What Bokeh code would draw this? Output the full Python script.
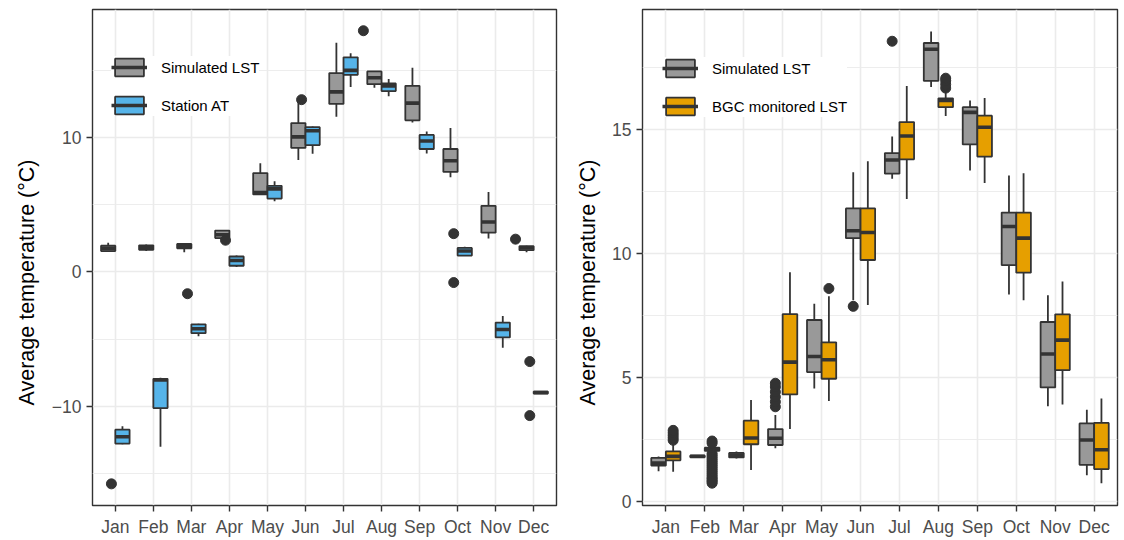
from bokeh.plotting import figure
from bokeh.layouts import row
from bokeh.models import Range1d, FixedTicker, Legend, LegendItem, ColumnDataSource, Title
from bokeh.embed import file_html
from bokeh.resources import INLINE

# ---------------- data ----------------
months = ["Jan", "Feb", "Mar", "Apr", "May", "Jun",
          "Jul", "Aug", "Sep", "Oct", "Nov", "Dec"]

# Left panel: Simulated LST (grey)
L_sim_lo  = [1.54, 1.55, 1.46, 2.50, 5.77, 8.33, 11.55, 13.70, 11.13, 7.05, 2.49, 1.46]
L_sim_q1  = [1.55, 1.65, 1.76, 2.52, 5.77, 9.23, 12.50, 13.97, 11.28, 7.44, 2.92, 1.62]
L_sim_med = [1.74, 1.82, 1.92, 2.77, 5.90, 10.05, 13.40, 14.45, 12.56, 8.28, 3.72, 1.80]
L_sim_q3  = [1.95, 1.98, 2.08, 3.08, 7.36, 11.08, 14.80, 14.92, 13.85, 9.15, 4.92, 1.92]
L_sim_hi  = [2.18, 2.05, 2.15, 3.13, 8.08, 12.60, 17.05, 14.95, 15.20, 10.72, 5.95, 1.95]
L_sim_out_month = [8, 12]
L_sim_out_value = [17.95, 2.44]

# Left panel: Station AT (blue)
L_at_lo  = [-12.82, -13.00, -4.79, 0.36, 5.26, 8.79, 13.77, 13.08, 8.82, 1.20, -5.64, -9.08]
L_at_q1  = [-12.77, -10.13, -4.56, 0.46, 5.46, 9.44, 14.67, 13.46, 9.15, 1.22, -4.87, -9.05]
L_at_med = [-12.26, -8.03, -4.23, 0.85, 6.18, 10.51, 15.00, 13.85, 9.74, 1.56, -4.28, -8.97]
L_at_q3  = [-11.74, -7.95, -3.90, 1.15, 6.41, 10.77, 15.97, 14.03, 10.20, 1.79, -3.77, -8.90]
L_at_hi  = [-11.49, -7.87, -3.85, 1.23, 6.74, 10.82, 16.28, 14.36, 10.46, 1.87, -3.28, -8.88]
L_at_out_month = [1, 3, 4, 6, 10, 10, 12, 12]
L_at_out_value = [-15.77, -1.62, 2.36, 12.82, 2.85, -0.79, -6.67, -10.69]

# Right panel: Simulated LST (grey)
R_sim_lo  = [1.20, 1.76, 1.72, 2.13, 4.54, 8.10, 13.00, 16.70, 13.33, 8.33, 3.82, 1.04]
R_sim_q1  = [1.43, 1.77, 1.76, 2.26, 5.20, 10.60, 13.20, 16.94, 14.38, 9.51, 4.58, 1.46]
R_sim_med = [1.53, 1.80, 1.85, 2.53, 5.83, 10.90, 13.75, 18.22, 15.67, 11.07, 5.93, 2.46]
R_sim_q3  = [1.74, 1.83, 1.94, 2.90, 7.30, 11.80, 14.03, 18.47, 15.88, 11.63, 7.22, 3.13]
R_sim_hi  = [1.80, 1.85, 2.00, 3.47, 7.96, 13.26, 14.70, 18.93, 16.15, 13.13, 8.30, 3.68]
R_sim_out_month = [4, 4, 4, 4, 4, 4, 6, 7]
R_sim_out_value = [3.80, 4.00, 4.20, 4.40, 4.60, 4.75, 7.85, 18.54]

# Right panel: BGC monitored LST (orange)
R_bgc_lo  = [1.18, 1.98, 1.25, 2.90, 4.03, 7.90, 12.18, 15.53, 12.82, 8.10, 3.89, 0.72]
R_bgc_q1  = [1.64, 2.02, 2.29, 4.30, 4.93, 9.72, 13.78, 15.88, 13.89, 9.21, 5.28, 1.29]
R_bgc_med = [1.80, 2.10, 2.54, 5.60, 5.70, 10.83, 14.72, 16.15, 15.07, 10.60, 6.49, 2.07]
R_bgc_q3  = [2.00, 2.15, 3.24, 7.54, 6.40, 11.80, 15.28, 16.24, 15.54, 11.63, 7.53, 3.15]
R_bgc_hi  = [2.30, 2.20, 4.07, 9.23, 8.26, 13.70, 16.74, 16.57, 16.25, 13.22, 8.85, 4.13]
R_bgc_out_month = [1, 1, 1, 1, 1,
                   2, 2, 2, 2, 2, 2, 2, 2, 2, 2, 2, 2, 2, 2, 2, 2, 2, 2, 2,
                   5, 8, 8, 8, 8]
R_bgc_out_value = [2.45, 2.55, 2.65, 2.75, 2.85,
                   2.42, 2.33, 1.92, 1.84, 1.76, 1.68, 1.60, 1.52, 1.44, 1.36, 1.28,
                   1.20, 1.12, 1.04, 0.96, 0.90, 0.84, 0.78, 0.72,
                   8.57, 16.65, 16.80, 16.95, 17.05]

# ---------------- style ----------------
FONT = "Liberation Sans"
DARK = "#333333"
GREY = "#999999"
BLUE = "#56B4E9"
ORANGE = "#E69F00"
GRID = "#EBEBEB"
DODGE = 0.1875
BOXW = 0.375


def add_series(p, offset, lo, q1, med, q3, hi, out_m, out_v, fill, out_shift):
    x = [i + 1 + offset for i in range(len(months))]
    src = ColumnDataSource(dict(
        x=x, lo=lo, q1=q1, med=med, q3=q3, hi=hi,
        xl=[v - BOXW / 2 for v in x], xr=[v + BOXW / 2 for v in x]))
    p.segment(x0="x", x1="x", y0="lo", y1="hi", source=src,
              line_color=DARK, line_width=1.8)
    box = p.vbar(x="x", width=BOXW, bottom="q1", top="q3", source=src,
                 fill_color=fill, line_color=DARK, line_width=1.8)
    medr = p.segment(x0="xl", x1="xr", y0="med", y1="med", source=src,
                     line_color=DARK, line_width=3.6)
    return box, medr, (out_m, out_v, offset + out_shift)


def make_panel(y_lo, y_hi, ticks, minor, labels, fw, bl, br, series, legend_loc):
    p = figure(frame_width=fw, frame_height=496,
               min_border_left=bl, min_border_right=br,
               min_border_top=9, min_border_bottom=35,
               x_range=Range1d(0.4, 12.6), y_range=Range1d(y_lo, y_hi),
               output_backend="svg", toolbar_location=None,
               background_fill_color="white", border_fill_color="white")
    p.outline_line_color = DARK
    p.outline_line_width = 1.4

    p.xaxis.ticker = FixedTicker(ticks=list(range(1, 13)))
    p.xaxis.major_label_overrides = {i + 1: m for i, m in enumerate(months)}
    p.yaxis.ticker = FixedTicker(ticks=ticks, minor_ticks=minor)
    p.yaxis.major_label_overrides = {t: l for t, l in zip(ticks, labels)}

    for ax in (p.xaxis[0], p.yaxis[0]):
        ax.axis_line_color = None
        ax.major_tick_line_color = DARK
        ax.major_tick_line_width = 1.4
        ax.major_tick_out = 6
        ax.major_tick_in = 0
        ax.minor_tick_line_color = None
        ax.major_label_text_font = FONT
        ax.major_label_text_font_size = "17.5px"
        ax.major_label_text_color = "#4D4D4D"
        ax.major_label_standoff = 5

    ytitle = Title(text="Average temperature (°C)", align="left", offset=100,
                   vertical_align="top", standoff=15,
                   text_font=FONT, text_font_size="21.5px",
                   text_font_style="normal", text_color="#000000")
    p.add_layout(ytitle, "left")

    p.xgrid.grid_line_color = GRID
    p.xgrid.grid_line_width = 1.6
    p.ygrid.grid_line_color = GRID
    p.ygrid.grid_line_width = 1.6
    p.ygrid.minor_grid_line_color = GRID
    p.ygrid.minor_grid_line_width = 0.9

    items = []
    outs = []
    for (name, offset, lo, q1, med, q3, hi, om, ov, fill, shift) in series:
        box, medr, o = add_series(p, offset, lo, q1, med, q3, hi, om, ov, fill, shift)
        items.append(LegendItem(label=name, renderers=[box, medr]))
        outs.append(o)
    for (om, ov, off) in outs:
        p.scatter(x=[m + off for m in om], y=ov, size=10,
                  fill_color=DARK, line_color=DARK)

    legend = Legend(items=items, location=legend_loc, orientation="vertical",
                    glyph_width=36, glyph_height=22, label_height=22,
                    spacing=16, padding=20, margin=0, label_standoff=14,
                    label_text_font=FONT, label_text_font_size="15px",
                    label_text_color="#000000",
                    background_fill_color="white", background_fill_alpha=1.0,
                    border_line_color=None)
    p.add_layout(legend)
    return p


left_series = [
    ("Simulated LST", -DODGE, L_sim_lo, L_sim_q1, L_sim_med, L_sim_q3, L_sim_hi,
     L_sim_out_month, L_sim_out_value, GREY, -0.29),
    ("Station AT", DODGE, L_at_lo, L_at_q1, L_at_med, L_at_q3, L_at_hi,
     L_at_out_month, L_at_out_value, BLUE, -0.29),
]
right_series = [
    ("Simulated LST", -DODGE, R_sim_lo, R_sim_q1, R_sim_med, R_sim_q3, R_sim_hi,
     R_sim_out_month, R_sim_out_value, GREY, 0.0),
    ("BGC monitored LST", DODGE, R_bgc_lo, R_bgc_q1, R_bgc_med, R_bgc_q3, R_bgc_hi,
     R_bgc_out_month, R_bgc_out_value, ORANGE, 0.0),
]

p1 = make_panel(-17.38, 19.53, [-10, 0, 10], [-15, -5, 5, 15],
                ["\u221210", "0", "10"], 464, 92, 6, left_series, (19, 389))
p2 = make_panel(-0.18, 19.82, [0, 5, 10, 15], [2.5, 7.5, 12.5, 17.5],
                ["0", "5", "10", "15"], 475, 80, 7, right_series, (20, 388))

layout = row(p1, p2)
open("out.html", "w").write(file_html(layout, INLINE))
